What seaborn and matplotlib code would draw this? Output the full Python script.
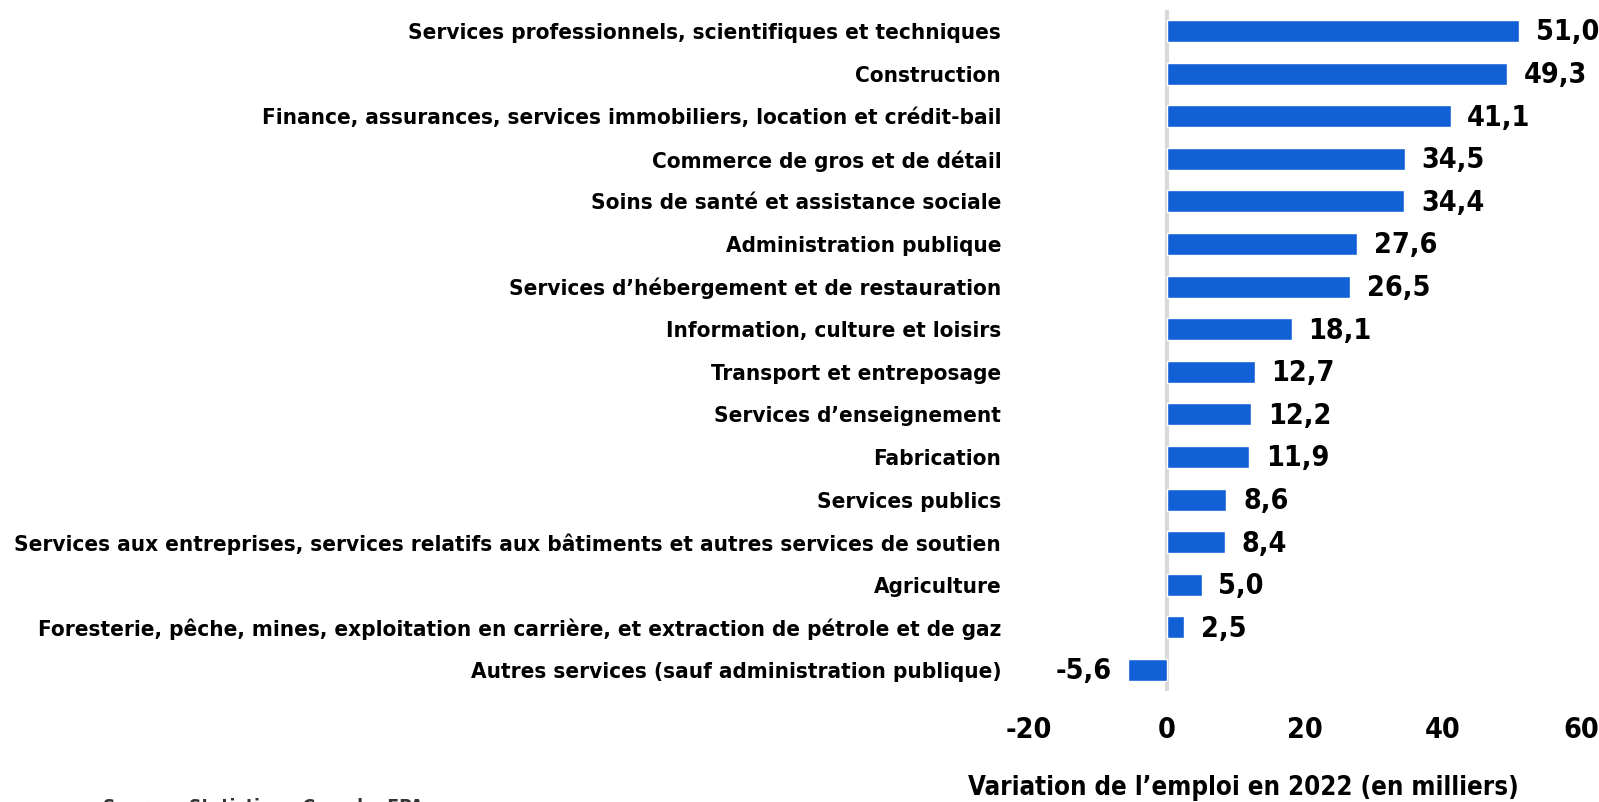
import matplotlib
matplotlib.use("Agg")
import matplotlib.pyplot as plt
import seaborn as sns
import pandas as pd
from matplotlib import font_manager
from matplotlib.font_manager import FontProperties

categories = [
    "Services professionnels, scientifiques et techniques",
    "Construction",
    "Finance, assurances, services immobiliers, location et crédit-bail",
    "Commerce de gros et de détail",
    "Soins de santé et assistance sociale",
    "Administration publique",
    "Services d’hébergement et de restauration",
    "Information, culture et loisirs",
    "Transport et entreposage",
    "Services d’enseignement",
    "Fabrication",
    "Services publics",
    "Services aux entreprises, services relatifs aux bâtiments et autres services de soutien",
    "Agriculture",
    "Foresterie, pêche, mines, exploitation en carrière, et extraction de pétrole et de gaz",
    "Autres services (sauf administration publique)",
]
values = [51.0, 49.3, 41.1, 34.5, 34.4, 27.6, 26.5, 18.1, 12.7, 12.2, 11.9, 8.6, 8.4, 5.0, 2.5, -5.6]
x_ticks = [-20, 0, 20, 40, 60]
x_label = "Variation de l’emploi en 2022 (en milliers)"
source = "Source : Statistique Canada, EPA"

sns.set_theme(style="white")

# pick a condensed bold font if one is installed
fonts = font_manager.fontManager.ttflist
chosen = None
for key in ["liberationsansnarrow-bold", "dejavusanscondensed-bold",
            "robotocondensed-bold", "opensanscondensed-bold",
            "notosans-condensedbold", "notosanscondensed-bold"]:
    for f in fonts:
        base = f.fname.lower().replace(" ", "").split("/")[-1]
        if key in base and "italic" not in base and "oblique" not in base:
            chosen = f.fname
            break
    if chosen:
        break

def fp(size):
    if chosen:
        return FontProperties(fname=chosen, size=size)
    return FontProperties(family=["Liberation Sans", "DejaVu Sans"], weight="bold", size=size)

plt.rcParams["font.family"] = ["Liberation Sans", "DejaVu Sans"]
plt.rcParams["font.weight"] = "bold"

df = pd.DataFrame({"cat": categories, "val": values})

W, H = 1599, 802
fig = plt.figure(figsize=(W / 100, H / 100), dpi=100)
renderer = fig.canvas.get_renderer()

def text_width(text, size):
    t = fig.text(0, 0, text, fontproperties=fp(size))
    w = t.get_window_extent(renderer).width
    t.remove()
    return w

def fit_size(texts, target_px, start=20.0):
    w = max(text_width(t, start) for t in texts)
    return start * target_px / w

lab_size = min(fit_size(categories, 986), 20.5)
val_size = 20.5
tick_size = 20.5
xl_size = min(fit_size([x_label], 551), 22)
src_size = min(fit_size([source], 320), 17)

# axes geometry (pixels)
x_left, x_right = 1029, 1581
y_top, y_bot = 9.7, 691.3
ax = fig.add_axes([x_left / W, 1 - y_bot / H, (x_right - x_left) / W, (y_bot - y_top) / H])
sns.barplot(data=df, y="cat", x="val", orient="h", color="#1260D6", saturation=1,
            width=0.52, ax=ax)
ax.set_xlim(-20, 60)
ax.set_ylim(15.5, -0.5)
ax.set_xticks(x_ticks)
ax.set_xticklabels([str(t) for t in x_ticks], fontproperties=fp(tick_size), color="black")
ax.set_yticks(range(len(categories)))
ax.set_yticklabels(categories, fontproperties=fp(lab_size), color="black")
ax.tick_params(axis="y", length=0, pad=20)
ax.tick_params(axis="x", length=0, pad=18)
ax.set_ylabel("")
ax.set_xlabel(x_label, fontproperties=fp(xl_size), color="black")
ax.xaxis.label.set_verticalalignment("baseline")
ax.xaxis.set_label_coords(((968 + 1519) / 2 - x_left) / (x_right - x_left),
                          (y_bot - 795) / (y_bot - y_top))
for s in ax.spines.values():
    s.set_visible(False)
ax.axvline(0, color="#d9d9d9", lw=3, zorder=0)

for i, v in enumerate(values):
    txt = f"{v:.1f}".replace(".", ",")
    if v >= 0:
        ax.annotate(txt, (v, i), xytext=(12, -1), textcoords="offset points",
                    ha="left", va="center", fontproperties=fp(val_size), color="black")
    else:
        ax.annotate(txt, (v, i), xytext=(-12, -1), textcoords="offset points",
                    ha="right", va="center", fontproperties=fp(val_size), color="black")

# source line, mostly below the bottom edge as in the reference
cap_px = src_size * 100 / 72 * 0.73
baseline_px = 799 + cap_px
fig.text(103 / W, 1 - baseline_px / H, source, fontproperties=fp(src_size), color="#333333",
         ha="left", va="baseline")

fig.savefig("out.png", dpi=100)
